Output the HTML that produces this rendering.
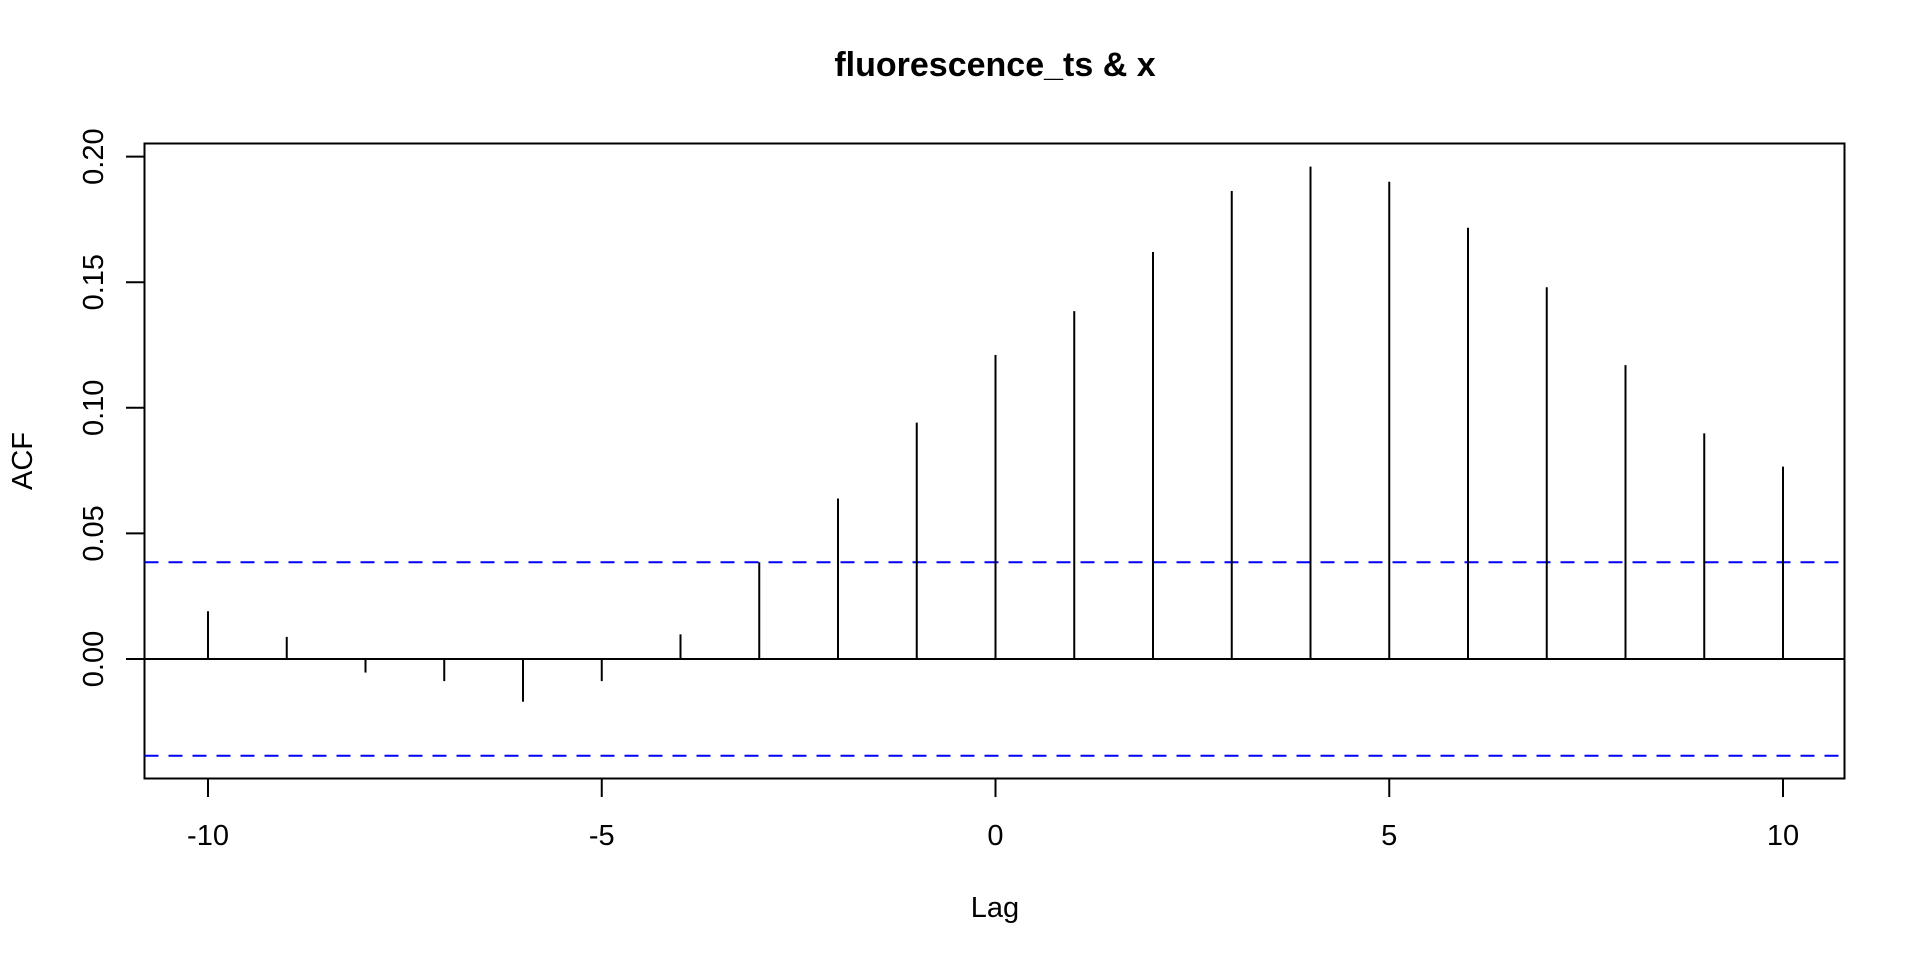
<!DOCTYPE html>
<html><head><meta charset="utf-8"><style>
html,body{margin:0;padding:0;background:#fff;}
svg{display:block;font-family:"Liberation Sans",sans-serif;}
</style></head><body>
<svg id="chart" width="1920" height="960" xmlns="http://www.w3.org/2000/svg">
<text x="995" y="76" text-anchor="middle" font-size="34" font-weight="bold">fluorescence_ts &amp; x</text>
<rect x="144.5" y="143.5" width="1700" height="635" fill="none" stroke="#000" stroke-width="2"/>
<g id="yaxis"></g>
<g id="xaxis"></g>
<g id="marks"></g>
<text x="995" y="917" text-anchor="middle" font-size="29">Lag</text>
<text x="32" y="461" text-anchor="middle" font-size="29" transform="rotate(-90 32 461)">ACF</text>
</svg>
<script>
const lags = [-10,-9,-8,-7,-6,-5,-4,-3,-2,-1,0,1,2,3,4,5,6,7,8,9,10];
const acfValues = [0.019,0.0088,-0.0054,-0.0088,-0.017,-0.0088,0.0098,0.0385,0.0639,0.0941,0.121,0.1385,0.162,0.1863,0.196,0.190,0.1717,0.148,0.117,0.0898,0.0766];
const ciBound = 0.0385;
const yTicks = [0, 0.05, 0.10, 0.15, 0.20];
const yTickLabels = ["0.00","0.05","0.10","0.15","0.20"];
const xTicks = [-10,-5,0,5,10];
const xTickLabels = ["-10","-5","0","5","10"];

const NS = "http://www.w3.org/2000/svg";
const xs = v => 208 + (v + 10) * 78.75;
const ys = v => 659 - v * 2512;
function mk(tag, attrs, parent, txt){
  const e = document.createElementNS(NS, tag);
  for (const k in attrs) e.setAttribute(k, attrs[k]);
  if (txt !== undefined) e.textContent = txt;
  parent.appendChild(e);
  return e;
}
const yg = document.getElementById('yaxis');
const xg = document.getElementById('xaxis');
const mg = document.getElementById('marks');
mk('line',{x1:144.5,x2:144.5,y1:ys(0),y2:ys(0.2),stroke:'#000','stroke-width':2},yg);
yTicks.forEach((t,i)=>{
  const l = mk('line',{x1:126,x2:144.5,y1:ys(t),y2:ys(t),stroke:'#000','stroke-width':2},yg);
  
  
  const tx = mk('text',{x:103,y:ys(t),'text-anchor':'middle','font-size':29,transform:`rotate(-90 103 ${ys(t)})`},yg,yTickLabels[i]);
  
  
});
mk('line',{x1:xs(-10),x2:xs(10),y1:778.5,y2:778.5,stroke:'#000','stroke-width':2},xg);
xTicks.forEach((t,i)=>{
  const l = mk('line',{x1:xs(t),x2:xs(t),y1:778.5,y2:797,stroke:'#000','stroke-width':2},xg);
  
  
  const tx = mk('text',{x:xs(t),y:845,'text-anchor':'middle','font-size':29},xg,xTickLabels[i]);
  
  
});
const zl = mk('line',{x1:144.5,x2:1844.5,y1:ys(0),y2:ys(0),stroke:'#000','stroke-width':2},mg);


[ciBound,-ciBound].forEach(c=>{
  const l = mk('line',{x1:144.5,x2:1844.5,y1:ys(c),y2:ys(c),stroke:'#0000ff','stroke-width':2,'stroke-dasharray':'14 10'},mg);
  
  
});
lags.forEach((lag,i)=>{
  const l = mk('line',{x1:xs(lag),x2:xs(lag),y1:ys(0),y2:ys(acfValues[i]),stroke:'#000','stroke-width':2},mg);
  
  
});
</script>
</body></html>
